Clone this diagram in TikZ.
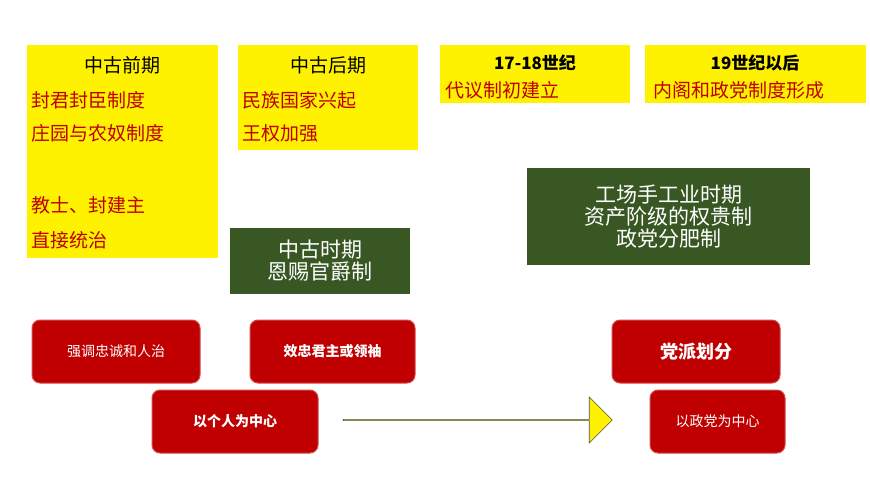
\documentclass[tikz,border=0pt]{standalone}
\usepackage{fontspec}
\setmainfont{Noto Sans CJK SC}
\usetikzlibrary{shapes.arrows}
\definecolor{dred}{RGB}{192,0,0}
\definecolor{dgreen}{RGB}{56,87,35}
\begin{document}
\begin{tikzpicture}[x=1pt,y=-1pt,
ybox/.style={fill=yellow,draw=none},
gbox/.style={fill=dgreen,draw=none,text=white,font=\fontsize{21}{26}\selectfont,align=center},
rbox/.style={fill=dred,draw=dred!70!white,line width=1pt,rounded corners=8pt,text=white,font=\fontsize{14}{17}\selectfont\bfseries},
rt/.style={text=dred,font=\fontsize{19}{22}\selectfont,anchor=west},
bt/.style={text=black,font=\fontsize{19}{22}\selectfont}]
\useasboundingbox (0,0) rectangle (870,489);
\fill[white] (0,0) rectangle (870,489);
\node[ybox,minimum width=191pt,minimum height=213pt] (y1) at (122.5,151.5) {};
\node[ybox,minimum width=180pt,minimum height=105pt] (y2) at (328,97.5) {};
\node[ybox,minimum width=190pt,minimum height=58pt] (y3) at (535,74) {};
\node[ybox,minimum width=221pt,minimum height=58pt] (y4) at (755.5,74) {};
\node[bt] (t1) at (122,65) {中古前期};
\node[rt] (t1a) at (28,100) {封君封臣制度};
\node[rt] (t1b) at (28,133) {庄园与农奴制度};
\node[rt] (t1c) at (28,205) {教士、封建主};
\node[rt] (t1d) at (28,240) {直接统治};
\node[bt] (t2) at (328,65) {中古后期};
\node[rt] (t2a) at (239,100) {民族国家兴起};
\node[rt] (t2b) at (239,133) {王权加强};
\node[bt,font=\fontsize{17}{20}\selectfont\bfseries] (t3) at (535,63) {17-18世纪};
\node[rt] (t3a) at (442,90) {代议制初建立};
\node[bt,font=\fontsize{17}{20}\selectfont\bfseries] (t4) at (755,63) {19世纪以后};
\node[rt] (t4a) at (650,90) {内阁和政党制度形成};
\node[gbox,minimum width=180pt,minimum height=66pt] (g1) at (320,261) {中古时期\\[-4pt]恩赐官爵制};
\node[gbox,minimum width=283pt,minimum height=97pt] (g2) at (668.5,216.5) {工场手工业时期\\[-4pt]资产阶级的权贵制\\[-4pt]政党分肥制};
\node[rbox,font=\fontsize{14}{17}\selectfont,minimum width=168pt,minimum height=63pt] (r1) at (116,351.5) {强调忠诚和人治};
\node[rbox,minimum width=165pt,minimum height=63pt] (r2) at (332.5,351.5) {效忠君主或领袖};
\node[rbox,minimum width=166pt,minimum height=63pt] (r3) at (235,421.5) {以个人为中心};
\node[rbox,font=\fontsize{18}{21}\selectfont\bfseries,minimum width=168pt,minimum height=63pt] (r4) at (696,351.5) {党派划分};
\node[rbox,font=\fontsize{14}{17}\selectfont,minimum width=135pt,minimum height=63pt] (r5) at (717.5,421.5) {以政党为中心};
\node[single arrow,fill=yellow,draw=black!70,line width=0.6pt,minimum width=46pt,minimum height=269pt,single arrow head extend=12pt,inner sep=0pt,shape border uses incircle=false] (ar) at (477.5,420) {};
\end{tikzpicture}
\end{document}
